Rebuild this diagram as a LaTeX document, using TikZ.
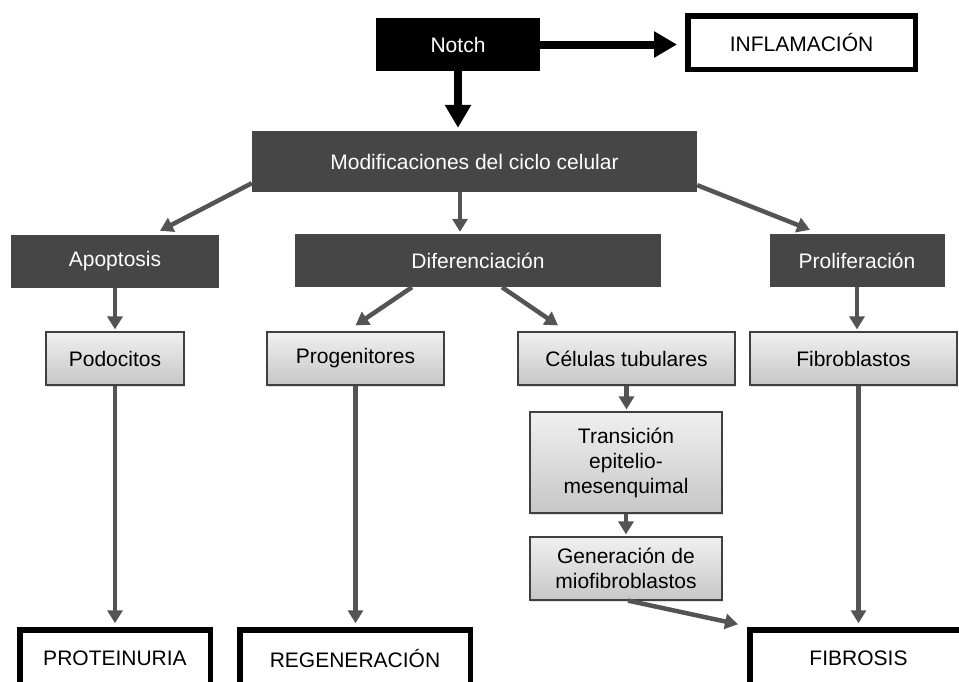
\documentclass[tikz,border=0pt]{standalone}
\usepackage{fontspec}
\setmainfont{Liberation Sans}
\usetikzlibrary{arrows.meta,shadows}

\tikzset{
  blackbox/.style={fill=black, text=white, inner sep=0pt},
  darkbox/.style={fill=black!72.5, text=white, inner sep=0pt},
  lightbox/.style={draw=black!75, line width=1.2pt, top color=black!6, bottom color=black!22,
    inner sep=0pt, align=center,
    drop shadow={shadow xshift=1pt, shadow yshift=-1.5pt, opacity=0.25}},
  resultbox/.style={draw=black, line width=5.5pt, fill=white, inner sep=0pt,
    drop shadow={shadow xshift=1.5pt, shadow yshift=-2pt, opacity=0.25}},
  bigarrow/.style={line width=8pt, -{Triangle[width=25pt,length=23pt]}},
  grayarrow/.style={draw=black!67, line width=4.5pt, -{Triangle[width=15pt,length=13pt]}},
}

\begin{document}
\begin{tikzpicture}[x=1pt, y=-1pt, font=\fontsize{21}{25}\selectfont]

% Page frame
\useasboundingbox (0,0) rectangle (959,681);
\clip (0,0) rectangle (959,681);

% Top row
\node[blackbox, minimum width=164pt, minimum height=53pt] (notch) at (458,44.5) {Notch};
\node[resultbox, minimum width=227.5pt, minimum height=53.5pt] (inflam) at (801.5,42.5) {INFLAMACIÓN};

% Main box
\node[darkbox, minimum width=445pt, minimum height=61pt] (modif) at (474.5,161.5) {Modificaciones del ciclo celular};

% Second row
\node[darkbox, minimum width=208pt, minimum height=53pt] (apop) at (115,261.5) {Apoptosis};
\node[darkbox, minimum width=366pt, minimum height=53pt] (difer) at (478,260.5) {Diferenciación};
\node[darkbox, minimum width=175pt, minimum height=53pt] (prolif) at (857,260.5) {Proliferación};

% Cell types
\node[lightbox, minimum width=138pt, minimum height=53pt] (podo) at (115,358.5) {Podocitos};
\node[lightbox, minimum width=177pt, minimum height=53pt] (progen) at (355.5,358.5) {Progenitores};
\node[lightbox, minimum width=217pt, minimum height=53pt] (celulas) at (626.5,358.5) {Células tubulares};
\node[lightbox, minimum width=207pt, minimum height=53pt] (fibro) at (853.5,358.5) {Fibroblastos};
\node[lightbox, minimum width=192pt, minimum height=101pt] (trans) at (626,462.5) {Transición\\epitelio-\\mesenquimal};
\node[lightbox, minimum width=192pt, minimum height=63pt] (gener) at (626,568.5) {Generación de\\miofibroblastos};

% Outcomes
\node[resultbox, minimum width=190.5pt, minimum height=56pt] (prot) at (115,658) {PROTEINURIA};
\node[resultbox, minimum width=230.5pt, minimum height=56pt] (regen) at (355,658) {REGENERACIÓN};
\node[resultbox, minimum width=217.5pt, minimum height=56pt] (fibrosis) at (858.5,658) {FIBROSIS};

% Black arrows from Notch
\draw[bigarrow, shorten >=8pt] (notch.east) -- (notch.east -| inflam.west);
\draw[bigarrow, shorten >=3pt] (notch.south) -- (notch.south |- modif.north);

% Gray arrows
\draw[grayarrow] ([yshift=9pt]modif.south west) -- ([xshift=45pt,yshift=4pt]apop.north);
\draw[grayarrow] ([xshift=-14.5pt]modif.south) -- ([xshift=-18pt,yshift=2pt]difer.north);
\draw[grayarrow] ([yshift=7pt]modif.south east) -- ([xshift=-47pt,yshift=4pt]prolif.north);
\draw[grayarrow, shorten >=2pt] (apop.south) -- (podo.north);
\draw[grayarrow] ([xshift=-66pt]difer.south) -- ([yshift=6pt]progen.north);
\draw[grayarrow] ([xshift=24pt]difer.south) -- ([xshift=-68.5pt,yshift=6pt]celulas.north);
\draw[grayarrow, shorten >=2pt] (prolif.south) -- (prolif.south |- fibro.north);
\draw[grayarrow, shorten >=4pt] (podo.south) -- (podo.south |- prot.north);
\draw[grayarrow, shorten >=4pt] (progen.south) -- (progen.south |- regen.north);
\draw[grayarrow, shorten >=2pt] (celulas.south) -- (celulas.south |- trans.north);
\draw[grayarrow, shorten >=2pt] (trans.south) -- (gener.north);
\draw[grayarrow] ([xshift=2pt]gener.south) -- ([xshift=-9pt,yshift=3pt]fibrosis.north west);
\draw[grayarrow, shorten >=4pt] (fibro.south -| fibrosis.north) -- (fibrosis.north);

\end{tikzpicture}
\end{document}
